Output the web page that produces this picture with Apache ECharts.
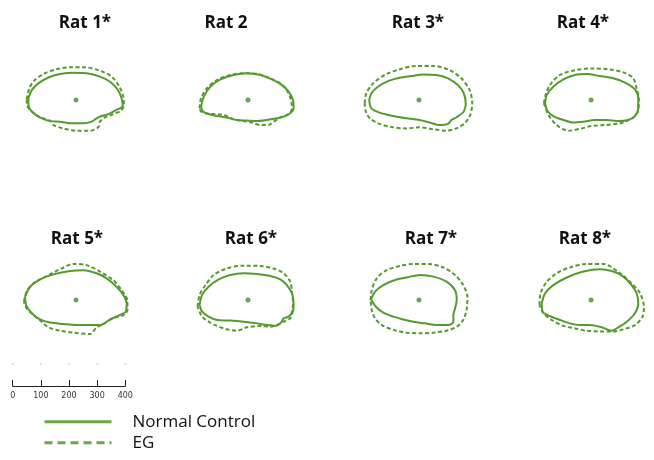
<!DOCTYPE html>
<html><head><meta charset="utf-8">
<script src="https://cdn.jsdelivr.net/npm/echarts@6/dist/echarts.min.js"></script>
<style>html,body{margin:0;padding:0;background:#fff}#c{width:654px;height:460px}</style>
</head><body><div id="c"></div>
<script>
// ---------- data ----------
const ratNames = ['Rat 1*','Rat 2','Rat 3*','Rat 4*','Rat 5*','Rat 6*','Rat 7*','Rat 8*'];
const groupNames = ['Normal Control','EG'];
const scaleTicks = [0,100,200,300,400];
// outlines (µm, relative to centroid; x right, y up)
const control1 = [[-169,6],[-157,35],[-134,59],[-98,80],[-57,92],[-9,97],[38,95],[85,83],[121,65],[147,38],[162,6],[166,-21],[144,-35],[115,-50],[91,-57],[73,-65],[56,-77],[26,-83],[-9,-83],[-57,-77],[-92,-75],[-128,-62],[-157,-41],[-169,-18]];
const eg1 = [[-175,2],[-166,41],[-146,71],[-110,95],[-69,109],[-21,116],[32,116],[85,104],[127,83],[154,47],[168,12],[170,-18],[159,-38],[132,-50],[103,-62],[85,-77],[79,-97],[50,-109],[2,-109],[-45,-101],[-80,-89],[-92,-73],[-128,-62],[-157,-41],[-173,-21]];
const control2 = [[-167,-24],[-157,12],[-134,47],[-98,73],[-51,89],[-4,95],[44,89],[85,73],[121,53],[144,30],[160,0],[162,-30],[150,-47],[127,-59],[103,-65],[67,-71],[32,-75],[-4,-73],[-39,-71],[-75,-62],[-110,-57],[-140,-50],[-160,-41]];
const eg2 = [[-172,-30],[-167,6],[-146,41],[-110,71],[-63,89],[-15,95],[38,92],[79,77],[115,59],[138,35],[153,0],[156,-30],[144,-50],[115,-62],[91,-77],[73,-89],[44,-89],[14,-80],[-15,-75],[-51,-69],[-86,-53],[-122,-50],[-151,-47],[-167,-41]];
const control3 = [[-177,0],[-169,24],[-146,47],[-110,67],[-69,79],[-27,85],[14,91],[62,89],[103,77],[138,53],[159,24],[166,-12],[159,-41],[132,-62],[115,-71],[103,-85],[73,-89],[38,-80],[2,-71],[-45,-65],[-92,-57],[-140,-45],[-169,-30]];
const eg3 = [[-193,-12],[-187,24],[-163,59],[-122,89],[-69,109],[-9,121],[50,121],[109,106],[150,77],[180,35],[189,-12],[182,-53],[162,-83],[132,-101],[97,-109],[50,-104],[2,-97],[-45,-101],[-92,-97],[-140,-85],[-175,-65],[-189,-41]];
const control4 = [[-163,-12],[-157,18],[-134,47],[-98,73],[-57,89],[-15,92],[32,85],[79,77],[121,62],[156,38],[168,6],[168,-30],[156,-57],[132,-71],[97,-75],[56,-71],[14,-71],[-27,-77],[-63,-80],[-98,-71],[-134,-57],[-155,-38]];
const eg4 = [[-167,-12],[-163,12],[-146,53],[-110,89],[-57,106],[2,112],[62,109],[115,98],[150,77],[162,41],[170,6],[169,-30],[156,-57],[138,-69],[103,-83],[50,-89],[2,-92],[-33,-101],[-80,-109],[-122,-89],[-151,-53]];
const control5 = [[-181,12],[-163,47],[-128,73],[-80,91],[-21,103],[26,106],[73,95],[109,77],[144,47],[168,18],[180,-12],[177,-41],[156,-53],[121,-69],[85,-89],[50,-89],[2,-89],[-45,-85],[-92,-80],[-128,-69],[-157,-47],[-177,-18]];
const eg5 = [[-185,-6],[-175,30],[-151,59],[-104,85],[-51,112],[-9,128],[38,124],[85,101],[132,71],[162,35],[182,0],[183,-35],[170,-53],[132,-65],[91,-89],[73,-97],[50,-121],[-9,-116],[-57,-109],[-98,-97],[-122,-77],[-151,-53],[-175,-30]];
const control6 = [[-172,-18],[-163,18],[-140,47],[-104,73],[-63,89],[-15,95],[32,92],[79,85],[115,73],[138,53],[156,24],[162,-12],[160,-41],[144,-59],[127,-65],[115,-83],[97,-92],[67,-89],[32,-83],[-15,-77],[-63,-73],[-110,-71],[-140,-59],[-163,-41]];
const eg6 = [[-179,-24],[-172,18],[-151,53],[-122,89],[-75,112],[-15,122],[44,121],[91,112],[127,95],[150,65],[156,30],[160,-12],[156,-41],[150,-65],[127,-77],[103,-89],[79,-95],[44,-92],[-4,-97],[-39,-109],[-75,-104],[-110,-92],[-140,-77],[-163,-59]];
const control7 = [[-170,2],[-156,30],[-127,53],[-85,71],[-44,80],[4,89],[51,83],[98,65],[128,35],[134,0],[128,-30],[122,-53],[122,-77],[104,-89],[63,-89],[21,-83],[-20,-77],[-56,-69],[-91,-59],[-127,-45],[-153,-24]];
const eg7 = [[-172,0],[-168,35],[-150,77],[-115,106],[-67,121],[-20,128],[33,128],[86,116],[128,89],[157,53],[172,12],[169,-35],[157,-71],[134,-95],[98,-109],[51,-116],[4,-118],[-44,-116],[-91,-106],[-132,-89],[-156,-65],[-168,-35]];
const control8 = [[-175,-12],[-163,24],[-134,53],[-86,80],[-27,101],[32,109],[79,101],[115,83],[144,53],[162,24],[168,-12],[156,-47],[127,-77],[97,-97],[73,-109],[38,-97],[-4,-89],[-39,-89],[-75,-83],[-110,-71],[-146,-57],[-172,-41]];
const eg8 = [[-183,-18],[-179,24],[-157,65],[-122,95],[-75,116],[-15,128],[44,128],[103,95],[144,59],[174,24],[188,-24],[183,-59],[156,-89],[115,-104],[79,-112],[32,-112],[-15,-109],[-57,-101],[-98,-92],[-140,-71],[-169,-47]];
const controlOutlines = [control1,control2,control3,control4,control5,control6,control7,control8];
const egOutlines = [eg1,eg2,eg3,eg4,eg5,eg6,eg7,eg8];

// ---------- layout ----------
const GREEN = '#55992f';
const PANEL_CX = [76, 248, 419, 591, 76, 248, 419, 591];
const PANEL_CY = [100, 100, 100, 100, 300, 300, 300, 300];
const TITLE_X = [85, 226, 418, 583, 77, 251, 431, 585];
const TITLE_Y = [15, 15, 15, 15, 231, 231, 231, 231];
const SCALE_LEFT = 12.7, SCALE_WIDTH = 112.6;
const PX_PER_UM = SCALE_WIDTH / (scaleTicks[scaleTicks.length-1] - scaleTicks[0]);
const HALF_W = 70, HALF_H = 60;

const close = pts => pts.concat([pts[0]]);
const grids = [], xAxes = [], yAxes = [], series = [], titles = [];
ratNames.forEach((name, i) => {
  grids.push({left: PANEL_CX[i]-HALF_W, top: PANEL_CY[i]-HALF_H, width: 2*HALF_W, height: 2*HALF_H,
    containLabel:false, outerBoundsMode:'none'});
  xAxes.push({type:'value', gridIndex:i, min:-HALF_W/PX_PER_UM, max:HALF_W/PX_PER_UM, show:false});
  yAxes.push({type:'value', gridIndex:i, min:-HALF_H/PX_PER_UM, max:HALF_H/PX_PER_UM, show:false});
  series.push({type:'line', name:groupNames[0], xAxisIndex:i, yAxisIndex:i, data:close(controlOutlines[i]),
    smooth:0.3, symbol:'none', silent:true, lineStyle:{color:GREEN, width:2}, itemStyle:{color:GREEN}});
  series.push({type:'line', name:groupNames[1], xAxisIndex:i, yAxisIndex:i, data:close(egOutlines[i]),
    smooth:0.3, symbol:'none', silent:true, lineStyle:{color:GREEN, width:2, type:[4,2.5]}, itemStyle:{color:GREEN}});
  series.push({type:'scatter', xAxisIndex:i, yAxisIndex:i, data:[[0,0]], symbolSize:5, silent:true, itemStyle:{color:'#4a8f28'}});
  titles.push({text:name, left:TITLE_X[i], top:TITLE_Y[i], textAlign:'center', padding:0,
    textStyle:{fontFamily:'Open Sans', fontWeight:'bold', fontSize:17, color:'#111'}});
});
// scale bar
const si = ratNames.length;
grids.push({left: SCALE_LEFT, top: 364, width: SCALE_WIDTH, height: 22, containLabel:false, outerBoundsMode:'none'});
xAxes.push({type:'value', gridIndex:si, min:scaleTicks[0], max:scaleTicks[scaleTicks.length-1], interval:100,
  axisLine:{show:true, lineStyle:{color:'#222', width:1}}, axisTick:{show:true, inside:true, length:6, lineStyle:{color:'#222'}},
  axisLabel:{show:true, fontSize:8, margin:6, color:'#333', fontFamily:'DejaVu Sans'}, splitLine:{show:false}});
yAxes.push({type:'value', gridIndex:si, min:0, max:1, show:false});
series.push({type:'scatter', xAxisIndex:si, yAxisIndex:si, data:scaleTicks.map(t=>[t,1]), symbolSize:1.5, silent:true, itemStyle:{color:'#aaa'}});

const chart = echarts.init(document.getElementById('c'), null, {renderer:'canvas'});
chart.setOption({
  animation:false,
  backgroundColor:'#fff',
  title: titles,
  grid: grids, xAxis: xAxes, yAxis: yAxes,
  legend: {orient:'vertical', left:43, top:411.7, padding:0, itemWidth:67, itemHeight:4, itemGap:1,
    selectedMode:false,
    textStyle:{fontFamily:'Open Sans', fontSize:17, color:'#111', lineHeight:20, padding:[0,0,0,16]},
    data:[
      {name:groupNames[0], itemStyle:{opacity:0}, lineStyle:{color:'#69a845', width:3, type:'solid'}},
      {name:groupNames[1], itemStyle:{opacity:0}, lineStyle:{color:'#69a845', width:3, type:[8,5]}}
    ]},
  series: series
});
</script></body></html>
